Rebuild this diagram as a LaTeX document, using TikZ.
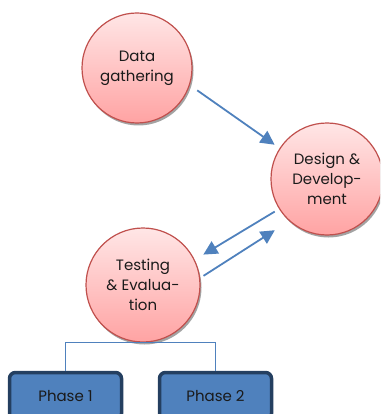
\documentclass[tikz,border=0pt]{standalone}
\usepackage{fontspec}
\setmainfont{Poppins}
\usetikzlibrary{arrows.meta,shadows}

\definecolor{stageline}{HTML}{C0504D}
\definecolor{stagetop}{HTML}{FFE6E6}
\definecolor{stagebot}{HTML}{FFA3A3}
\definecolor{flowblue}{HTML}{4F81BD}
\definecolor{phaseline}{HTML}{243F60}
\definecolor{inktext}{HTML}{1A1A1A}

\tikzset{
  stage/.style={circle, draw=stageline, line width=1.2pt, top color=stagetop, bottom color=stagebot,
    minimum size=110pt, inner sep=0pt, align=center, text=inktext, font=\fontsize{15}{20}\selectfont,
    drop shadow={shadow xshift=1.5pt, shadow yshift=-2.5pt, fill=black!45, opacity=0.8}},
  flow/.style={draw=flowblue, line width=1.8pt, -{Triangle[length=14pt,width=14pt]}},
  tree/.style={draw=flowblue, line width=0.9pt},
  phasebox/.style={rectangle, rounded corners=6pt, draw=phaseline, line width=3.5pt, fill=flowblue,
    text=inktext, minimum width=112pt, minimum height=47pt, font=\fontsize{15}{18}\selectfont}
}

\begin{document}
\begin{tikzpicture}[x=1pt, y=-1pt]

        % page frame
        \useasboundingbox (0,0) rectangle (380,414);
        \clip (0,0) rectangle (380,414);

        % Stages of the cycle
        \node[stage] (data) at (137,68) {Data\\gathering};
        \node[stage, minimum size=112pt] (design) at (327,179) {Design \&\\Develop-\\ment};
        \node[stage, minimum size=114pt] (test) at (143,285) {Testing\\\& Evalua-\\tion};

        % Phases below testing
        \node[phasebox] (ph1) at (65.5,396) {Phase 1};
        \node[phasebox] (ph2) at (215.5,396) {Phase 2};

        % Arrows between stages
        \draw[flow, shorten <=9pt, shorten >=6pt] (data.-18) -- (design.147);
        \draw[flow, shorten <=5pt, shorten >=10pt] (design.212) -- (test.26);
        \draw[flow, shorten <=4pt, shorten >=17pt] (test.7) -- (design.228);

        % Bracket to the phases
        \draw[tree] (ph1.north) |- (test.south) -| (ph2.north);
    \end{tikzpicture}
\end{document}
